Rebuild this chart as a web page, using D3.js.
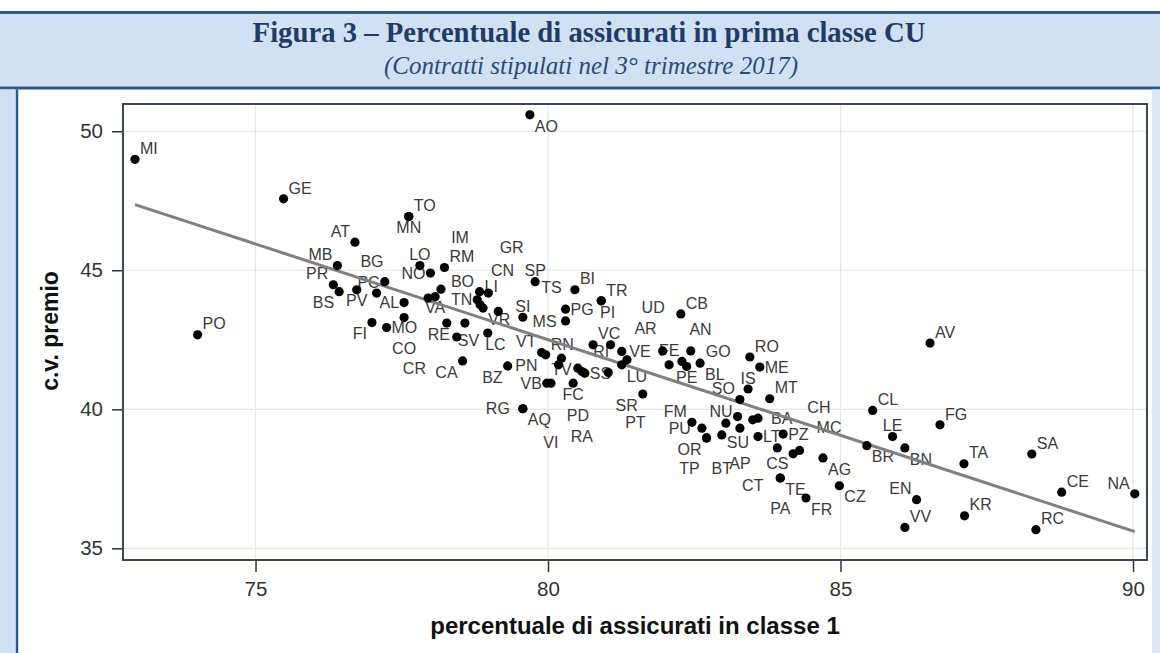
<!DOCTYPE html>
<html><head><meta charset="utf-8">
<script src="https://cdn.jsdelivr.net/npm/d3@7"></script>
<style>
html,body{margin:0;padding:0;background:#fff;}
svg{display:block;}
</style></head>
<body>
<svg id="chart" width="1160" height="653"></svg>
<script>
// ---- data ----
const names = ["MI","GE","PO","TO","MN","AT","MB","PR","BS","PV","PC","BG","AL","FI","MO","CO","CR","LO","NO","RM","IM","BO","VA","AO","LI","CN","TN","GR","VR","TS","LC","RE","SV","CA","SI","BZ","PN","VT","RN","TV","PD","RA","SS","PT","FC","VB","VI","RG","AQ","SR","RI","VC","VE","AR","LU","SP","BI","PG","MS","TR","PI","UD","CB","AN","GO","FE","PE","BL","RO","ME","IS","MT","SO","NU","BA","CT","AP","BT","SU","LT","PZ","CS","CH","MC","AG","CZ","TE","PA","FR","FM","PU","OR","TP","AV","CL","FG","LE","BR","BN","TA","SA","CE","NA","RC","KR","VV","EN"];
const xValues = [72.94,75.48,74.01,77.62,77.62,76.70,76.40,76.33,76.43,76.73,77.07,77.21,77.54,76.99,77.24,77.54,78.58,77.81,77.99,78.23,77.95,78.17,78.07,79.69,78.83,78.98,78.79,78.84,78.89,79.15,78.97,78.27,78.44,78.54,79.57,79.31,80.18,79.89,79.96,80.23,80.51,80.58,80.63,81.03,80.43,79.98,80.05,79.57,79.57,81.62,81.26,80.77,81.96,81.35,81.26,79.78,80.46,80.30,80.30,80.91,80.91,81.07,82.27,82.29,82.44,82.07,82.37,82.60,83.45,83.62,83.42,83.79,83.28,83.24,83.59,83.50,83.28,82.97,83.04,83.59,84.02,83.92,84.19,84.30,84.70,84.98,83.97,83.97,84.41,82.46,82.63,82.71,82.71,86.53,85.55,86.70,85.89,85.45,86.10,87.11,88.27,88.78,90.03,88.34,87.12,86.10,86.30];
const yValues = [48.99,47.57,42.68,46.93,46.93,46.01,45.17,44.48,44.23,44.30,44.18,44.59,43.84,43.12,42.94,43.30,43.10,45.17,44.90,45.10,44.00,44.32,44.05,50.59,44.23,44.18,43.94,43.76,43.64,43.52,42.74,43.10,42.60,41.74,43.31,41.56,41.60,42.04,41.96,41.84,41.48,41.36,41.30,41.32,40.94,40.94,40.94,40.02,40.02,40.55,42.08,42.32,42.10,41.78,41.60,44.59,44.30,43.60,43.18,43.90,43.90,42.32,43.43,41.72,42.10,41.60,41.54,41.66,41.88,41.52,40.73,40.38,40.35,39.74,39.68,39.62,39.32,39.08,39.50,39.02,39.11,38.61,38.40,38.52,38.25,37.25,37.53,37.53,36.81,39.53,39.32,38.97,38.97,42.38,39.96,39.44,39.02,38.69,38.61,38.04,38.39,37.02,36.96,35.67,36.17,35.75,36.75];
// label placement codes (compass direction + optional distance step)
const labelPos = ["NE","NE","NE","NE","S","NW","NW","NW","SW","S","NNW","NNW1.9","W","SW","E","S3","SW4.4","N","W","NE","NNE6","ENE1.5","S","SE","ENE","NNE2.2","W","NNE5.6","SE","ENE4.8","SSE","SSW","ESE0.6","SW","N","SW","W2.6","NW","NE","S","S4.6","S6.4","E","SSE4.9","S","W","S5.8","W1.8","SE","SW","W1.75","NE","W1.7","NNE3.1","SE","N","NE","E","W1.4","NE","SSE","NE3.6","NE","NNE3.1","E2","N1.4","S","SE","NE","E","N","NE","NW","WNW","E1.8","S6.4","S3.4","S3.2","SSE1.8","E","E","S1.4","NNE4.5","NE2.2","SE","SE","SE","S2.9","SE","NW","W1.6","SW","SSW2.9","NE","NE","NE","N","SE","SE","NE","NE","NE","NW","NE","NE","NE","NW"];
const xTicks = [75, 80, 85, 90];
const yTicks = [35, 40, 45, 50];
const fitIntercept = 97.56;
const fitSlope = -0.6882;
const titleText = "Figura 3 – Percentuale di assicurati in prima classe CU";
const subtitleText = "(Contratti stipulati nel 3° trimestre 2017)";
const xTitle = "percentuale di assicurati in classe 1";
const yTitle = "c.v. premio";

// ---- drawing ----
const svg = d3.select("#chart");
const W = 1160, H = 653;
const sans = "'Liberation Sans', Arial, sans-serif";
const serif = "'Liberation Serif', 'Times New Roman', serif";
const navy = "#2f5a8c";
const paleBlue = "#cfe1f2";

svg.append("rect").attr("x",0).attr("y",0).attr("width",W).attr("height",H).attr("fill","#fff");
// header band
svg.append("rect").attr("x",0).attr("y",12).attr("width",W).attr("height",76).attr("fill",paleBlue);
svg.append("line").attr("x1",0).attr("x2",W).attr("y1",12.5).attr("y2",12.5).attr("stroke",navy).attr("stroke-width",3);
svg.append("line").attr("x1",0).attr("x2",W).attr("y1",88).attr("y2",88).attr("stroke",navy).attr("stroke-width",3);
// side bands
svg.append("rect").attr("x",0).attr("y",89.5).attr("width",15.5).attr("height",H-89.5).attr("fill",paleBlue);
svg.append("line").attr("x1",17).attr("x2",17).attr("y1",89.5).attr("y2",H).attr("stroke",navy).attr("stroke-width",2.5);
svg.append("rect").attr("x",1152).attr("y",89.5).attr("width",8).attr("height",H-89.5).attr("fill","#dbe7f4");

svg.append("text").attr("x",589).attr("y",42).attr("text-anchor","middle")
  .attr("font-family",serif).attr("font-weight","bold").attr("font-size",28.7)
  .attr("fill","#1f3b66").text(titleText);
svg.append("text").attr("x",591).attr("y",74).attr("text-anchor","middle")
  .attr("font-family",serif).attr("font-style","italic").attr("font-size",25)
  .attr("fill","#2b4a78").text(subtitleText);

// plot area
const L = 123, R = 1147, T = 104, B = 560;
const x = d3.scaleLinear().domain([72.735, 90.239]).range([L, R]);
const y = d3.scaleLinear().domain([34.58, 50.98]).range([B, T]);

svg.append("rect").attr("x",L).attr("y",T).attr("width",R-L).attr("height",B-T).attr("fill","#fff");

const grid = svg.append("g");
grid.selectAll("line.gx").data(xTicks).join("line").attr("class","gx")
  .attr("x1",d=>x(d)).attr("x2",d=>x(d)).attr("y1",T).attr("y2",B)
  .attr("stroke","#e4e4e4").attr("stroke-width",1.2);
grid.selectAll("line.gy").data(yTicks).join("line").attr("class","gy")
  .attr("y1",d=>y(d)).attr("y2",d=>y(d)).attr("x1",L).attr("x2",R)
  .attr("stroke","#e4e4e4").attr("stroke-width",1.2);

const xAxis = svg.append("g").attr("transform",`translate(0,${B})`)
  .call(d3.axisBottom(x).tickValues(xTicks).tickSize(12).tickPadding(9).tickFormat(d3.format("d")));
const yAxis = svg.append("g").attr("transform",`translate(${L},0)`)
  .call(d3.axisLeft(y).tickValues(yTicks).tickSize(11).tickPadding(9).tickFormat(d3.format("d")));
[xAxis,yAxis].forEach(a=>{
  a.select(".domain").remove();
  a.selectAll(".tick line").attr("stroke","#333").attr("stroke-width",1.5);
  a.selectAll(".tick text").attr("font-family",sans).attr("font-size",20.5).attr("fill","#333");
});

svg.append("text").attr("x",(L+R)/2).attr("y",634).attr("text-anchor","middle")
  .attr("font-family",sans).attr("font-weight","bold").attr("font-size",24)
  .attr("fill","#111").text(xTitle);
svg.append("text").attr("transform","translate(58,331) rotate(-90)").attr("text-anchor","middle")
  .attr("font-family",sans).attr("font-weight","bold").attr("font-size",23)
  .attr("fill","#111").text(yTitle);

const rows = names.map((n,i)=>({name:n, x:xValues[i], y:yValues[i], pos:labelPos[i]}));

const dirs = {E:[1,0],ENE:[1,-0.5],NE:[1,-1],NNE:[0.5,-1],N:[0,-1],NNW:[-0.5,-1],NW:[-1,-1],WNW:[-1,-0.5],
  W:[-1,0],WSW:[-1,0.5],SW:[-1,1],SSW:[-0.5,1],S:[0,1],SSE:[0.5,1],SE:[1,1],ESE:[1,0.5]};

svg.append("g").selectAll("text").data(rows).join("text")
  .attr("font-family",sans).attr("font-size",16).attr("fill","#3a3a3a")
  .attr("text-anchor","middle").text(d=>d.name)
  .each(function(d){
    const m = d.pos.match(/^([A-Z]+)([\d.]*)$/);
    const k = m[2] ? +m[2] : 1;
    const [ux,uy] = dirs[m[1]];
    const w = this.getComputedTextLength();
    const gap = 5 + (k-1)*10;
    const cx = x(d.x) + ux*(gap + w/2);
    const cy = y(d.y) + uy*(gap + 6);
    d3.select(this).attr("x",cx).attr("y",cy+5.7);
  });

// regression line
const xs = d3.extent(xValues);
svg.append("line")
  .attr("x1",x(xs[0])).attr("y1",y(fitIntercept+fitSlope*xs[0]))
  .attr("x2",x(xs[1])).attr("y2",y(fitIntercept+fitSlope*xs[1]))
  .attr("stroke","#808080").attr("stroke-width",3);

svg.append("g").selectAll("circle").data(rows).join("circle")
  .attr("cx",d=>x(d.x)).attr("cy",d=>y(d.y)).attr("r",4.6).attr("fill","#000");

// frame
svg.append("rect").attr("x",L).attr("y",T).attr("width",R-L).attr("height",B-T)
  .attr("fill","none").attr("stroke","#3b4660").attr("stroke-width",2);
</script>
</body></html>
